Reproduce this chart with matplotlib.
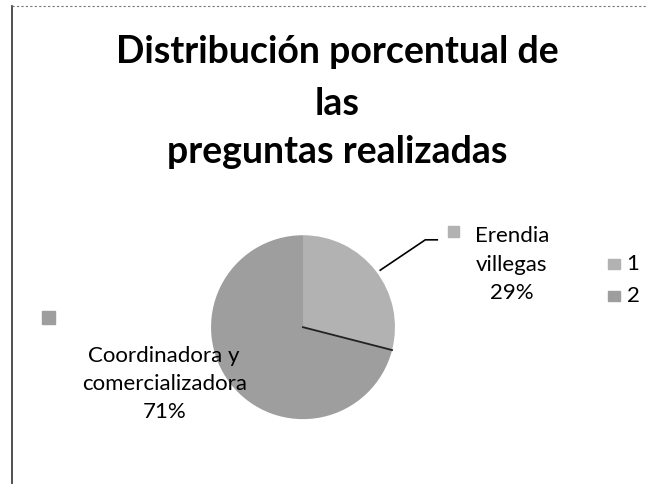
import matplotlib
matplotlib.use("Agg")
import numpy as np
import matplotlib.pyplot as plt
from matplotlib.patches import Rectangle

# datos
etiquetas = ["Erendia\nvillegas", "Coordinadora y\ncomercializadora"]
porcentajes = [29, 71]
leyenda = ["1", "2"]
colores = ["#b2b2b2", "#9e9e9e"]

plt.rcParams["font.family"] = ["Lato", "DejaVu Sans"]

fig = plt.figure(figsize=(6.48, 4.84), dpi=100)

# marco del escaneo
fig.add_artist(plt.Line2D([0.019, 0.019], [0.0, 0.988], color="#333333", lw=1.2))
fig.add_artist(plt.Line2D([0.019, 1.0], [0.988, 0.988], color="#777777", lw=0.8, ls=(0, (2, 2))))

# titulo
for txt, y in zip(["Distribución porcentual de", "las", "preguntas realizadas"],
                  [0.870, 0.762, 0.663]):
    fig.text(0.52, y, txt, ha="center", va="baseline", fontsize=27, fontweight="bold")

ax = fig.add_axes([0.3256, 0.134, 0.284, 0.380])
ax.pie(porcentajes, colors=colores, startangle=90, counterclock=False,
       wedgeprops=dict(linewidth=0))
ax.set_xlim(-1, 1)
ax.set_ylim(-1, 1)
ax.set_aspect("equal")

# linea divisoria entre sectores
ang = np.deg2rad(90 - 360 * porcentajes[0] / 100)
ax.plot([0, np.cos(ang)], [0, np.sin(ang)], color="#222222", lw=1.3)

# etiqueta 1 con linea guia
ax.plot([0.84, 1.33, 1.46], [0.62, 0.95, 0.95], color="black", lw=1.2, clip_on=False)
ax.add_patch(Rectangle((1.58, 0.98), 0.12, 0.12, color=colores[0], clip_on=False))
ax.text(2.27, 0.68, f"{etiquetas[0]}\n{porcentajes[0]}%", ha="center", va="center",
        fontsize=16, linespacing=1.55)

# etiqueta 2
ax.add_patch(Rectangle((-2.84, 0.04), 0.14, 0.14, color=colores[1], clip_on=False))
ax.text(-1.51, -0.62, f"{etiquetas[1]}\n{porcentajes[1]}%", ha="center", va="center",
        fontsize=16, linespacing=1.5)

# leyenda
for i, (lab, col) in enumerate(zip(leyenda, colores)):
    y = 0.4545 - i * 0.066
    fig.add_artist(Rectangle((0.938, y - 0.011), 0.019, 0.022, color=col,
                             transform=fig.transFigure))
    fig.text(0.967, y, lab, ha="left", va="center", fontsize=16)

fig.savefig("out.png", dpi=100)
